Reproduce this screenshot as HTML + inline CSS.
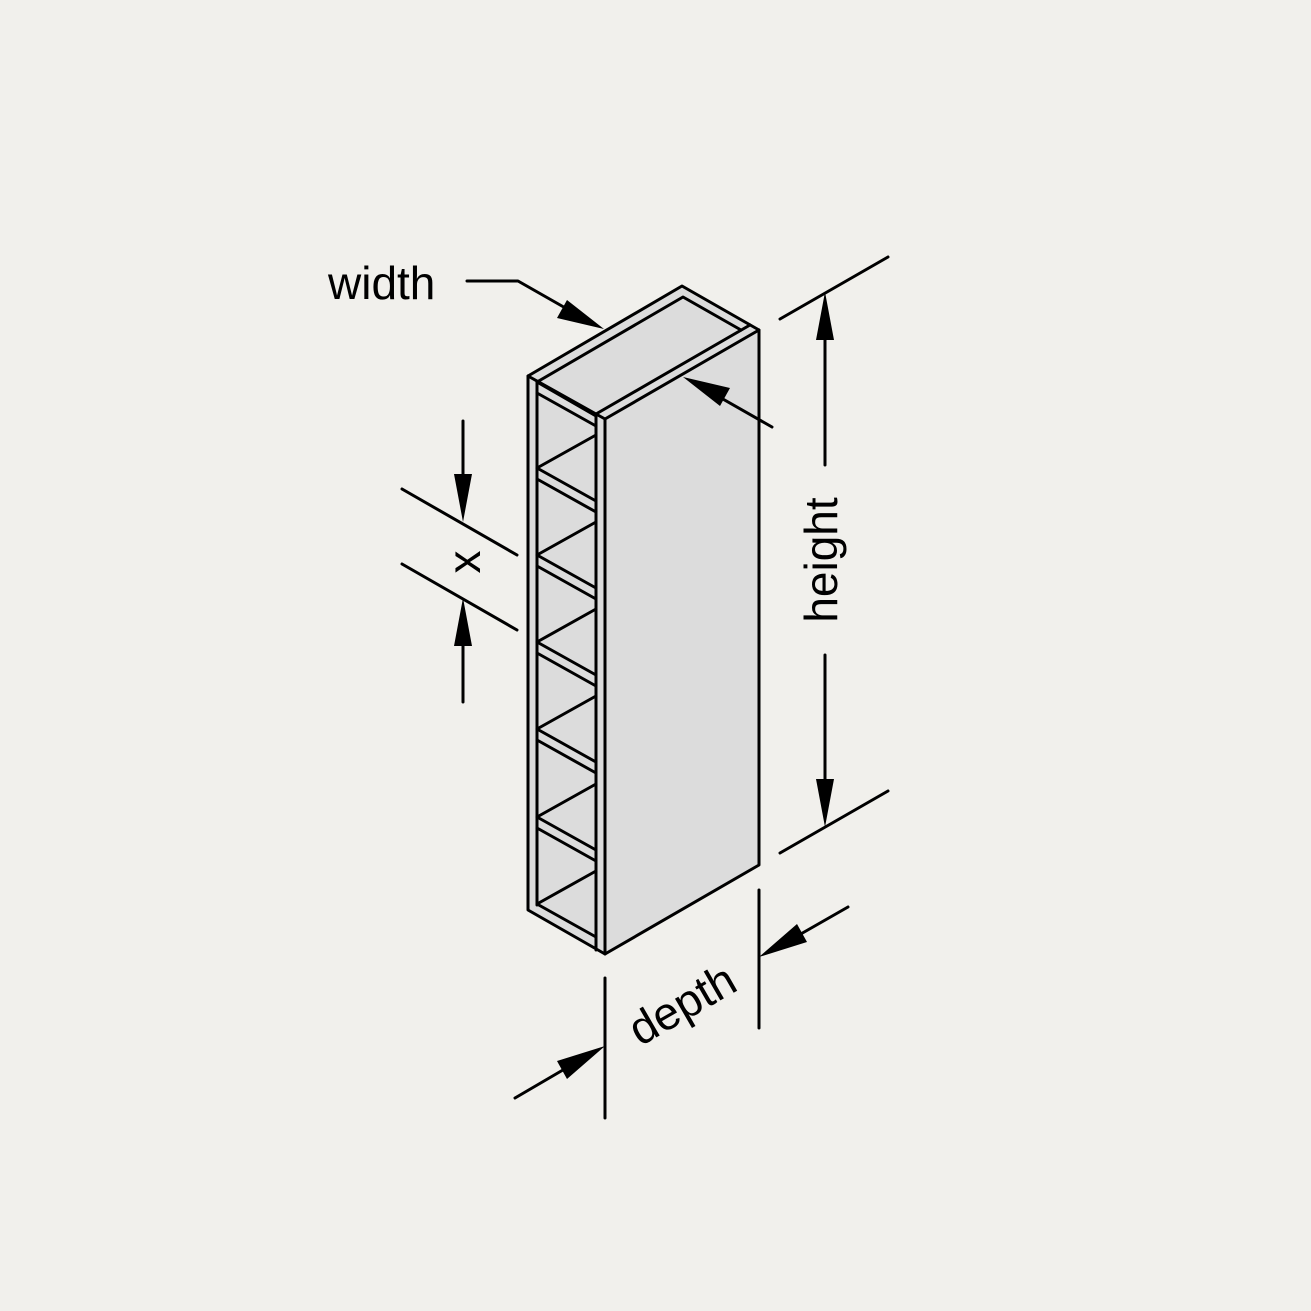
<!DOCTYPE html>
<html><head><style>html,body{margin:0;padding:0;background:#f1f0ec}svg{display:block}</style></head>
<body>
<svg width="1311" height="1311" viewBox="0 0 1311 1311" xmlns="http://www.w3.org/2000/svg" font-family="'Liberation Sans', sans-serif">
<rect width="1311" height="1311" fill="#f1f0ec"/>
<g stroke="#000" stroke-width="3" stroke-linejoin="round" stroke-linecap="round">
<polygon points="528,376 682,286 759,330 759,865 605,954 528,910" fill="#dcdcdc"/>
<polyline fill="none" points="605,419 759,330"/>
<line x1="596" y1="414" x2="750" y2="325"/>
<polyline fill="none" points="537,382 683,297 741,330"/>
<line x1="528" y1="376" x2="605" y2="419"/>
<line x1="537" y1="382" x2="596" y2="416"/>
<line x1="537" y1="382" x2="537" y2="905"/>
<line x1="596" y1="414" x2="596" y2="950"/>
<line x1="605" y1="419" x2="605" y2="954"/>
<line x1="537" y1="393" x2="596" y2="426"/>
<g>
<line x1="537" y1="468" x2="596" y2="435"/><line x1="537" y1="468" x2="596" y2="501"/><line x1="537" y1="479" x2="596" y2="512"/>
<line x1="537" y1="555" x2="596" y2="522"/><line x1="537" y1="555" x2="596" y2="588"/><line x1="537" y1="566" x2="596" y2="599"/>
<line x1="537" y1="642" x2="596" y2="609"/><line x1="537" y1="642" x2="596" y2="675"/><line x1="537" y1="653" x2="596" y2="686"/>
<line x1="537" y1="729" x2="596" y2="696"/><line x1="537" y1="729" x2="596" y2="762"/><line x1="537" y1="740" x2="596" y2="773"/>
<line x1="537" y1="817" x2="596" y2="784"/><line x1="537" y1="817" x2="596" y2="850"/><line x1="537" y1="828" x2="596" y2="861"/>
<line x1="537" y1="904" x2="596" y2="871"/><line x1="537" y1="904" x2="596" y2="937"/>
</g>
<!-- dims -->
<polyline fill="none" points="467,281 518,281 590,322"/>
<line x1="772" y1="427" x2="700" y2="386"/>
<line x1="780" y1="319" x2="888" y2="257"/>
<line x1="780" y1="853" x2="888" y2="791"/>
<line x1="825" y1="330" x2="825" y2="465"/>
<line x1="825" y1="655" x2="825" y2="790"/>
<line x1="402" y1="489" x2="517" y2="555"/>
<line x1="402" y1="564" x2="517" y2="630"/>
<line x1="463" y1="421" x2="463" y2="480"/>
<line x1="463" y1="640" x2="463" y2="702"/>
<line x1="605" y1="978" x2="605" y2="1118"/>
<line x1="759" y1="890" x2="759" y2="1028"/>
<line x1="515" y1="1098" x2="580" y2="1060"/>
<line x1="848" y1="907" x2="785" y2="943"/>
</g>
<g fill="#000">
<polygon points="604,329 557,318 567,300"/>
<polygon points="683,377 730,388 720,406"/>
<polygon points="825,292 816,340 834,340"/>
<polygon points="825,827 816,779 834,779"/>
<polygon points="463,522 454,474 472,474"/>
<polygon points="463,598 454,646 472,646"/>
<polygon points="605,1046 567,1079 557,1061"/>
<polygon points="759,957 797,924 807,942"/>
</g>
<g font-size="46" fill="#000">
<text x="328" y="299">width</text>
<text transform="translate(837,560) rotate(-90)" text-anchor="middle">height</text>
<text transform="translate(480,562) rotate(-90)" text-anchor="middle">x</text>
<text transform="translate(690,1018) rotate(-30)" text-anchor="middle">depth</text>
</g>
</svg>
</body></html>
